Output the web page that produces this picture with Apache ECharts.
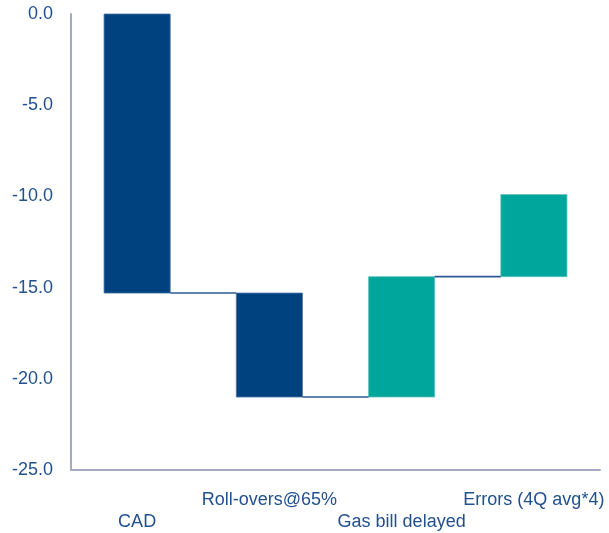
<!DOCTYPE html>
<html>
<head>
<meta charset="utf-8">
<style>
  html, body { margin: 0; padding: 0; background: #ffffff; }
  #chart { width: 609px; height: 533px; }
</style>
<script src="https://cdn.jsdelivr.net/npm/echarts@6/dist/echarts.min.js"></script>
</head>
<body>
<div id="chart"></div>
<script>
// Waterfall components (percentage points)
const categories = ['CAD', 'Roll-overs@65%', 'Gas bill delayed', 'Errors (4Q avg*4)'];
const changes = [-15.3, -5.7, 6.6, 4.5];
const yTicks = [0, -5, -10, -15, -20, -25];

const NAVY = '#00427f';
const TEAL = '#00a59b';
const TEXT = '#23508f';
const AXIS = '#a4abc1';

// Running totals: each bar spans from the previous level to the new one
const bars = [];
const levels = [];
let level = 0;
changes.forEach((c, i) => {
  const start = level;
  level = +(level + c).toFixed(2);
  bars.push([i, start, level]);
  levels.push(level);
});
// Connectors join the end of one bar to the start of the next
const connectors = levels.slice(0, -1).map((v, i) => [i, v]);

const chart = echarts.init(document.getElementById('chart'), null, { renderer: 'canvas' });

chart.setOption({
  animation: false,
  backgroundColor: '#ffffff',
  grid: { left: 71, right: 9, top: 14, bottom: 63, containLabel: false },
  xAxis: {
    type: 'category',
    data: categories,
    axisLine: { onZero: false, lineStyle: { color: AXIS, width: 2 } },
    axisTick: { show: false },
    axisLabel: {
      interval: 0,
      margin: 19,
      color: TEXT,
      fontFamily: 'Liberation Sans, Arial, sans-serif',
      fontSize: 18,
      lineHeight: 22,
      formatter: (val, idx) => (idx % 2 === 0 ? '\n' + val : val)
    }
  },
  yAxis: {
    type: 'value',
    min: yTicks[yTicks.length - 1],
    max: yTicks[0],
    interval: 5,
    axisLine: { show: true, lineStyle: { color: AXIS, width: 2 } },
    axisTick: { show: false },
    splitLine: { show: false },
    axisLabel: {
      margin: 18,
      color: TEXT,
      fontFamily: 'Liberation Sans, Arial, sans-serif',
      fontSize: 18,
      formatter: v => v.toFixed(1)
    }
  },
  series: [
    {
      type: 'custom',
      name: 'bars',
      data: bars,
      encode: { x: 0, y: [1, 2] },
      renderItem: (params, api) => {
        const i = api.value(0);
        const p1 = api.coord([i, api.value(1)]);
        const p2 = api.coord([i, api.value(2)]);
        const w = api.size([1, 0])[0] * 0.5;
        const up = api.value(2) > api.value(1);
        return {
          type: 'rect',
          shape: {
            x: p1[0] - w / 2,
            y: Math.min(p1[1], p2[1]),
            width: w,
            height: Math.abs(p2[1] - p1[1])
          },
          style: {
            fill: up ? TEAL : NAVY,
            stroke: up ? '#5cc4bd' : '#4a74a6',
            lineWidth: 0.8
          }
        };
      }
    },
    {
      type: 'custom',
      name: 'connectors',
      data: connectors,
      encode: { x: 0, y: 1 },
      renderItem: (params, api) => {
        const i = api.value(0);
        const v = api.value(1);
        const w = api.size([1, 0])[0] * 0.5;
        const a = api.coord([i, v]);
        const b = api.coord([i + 1, v]);
        return {
          type: 'line',
          shape: { x1: a[0] + w / 2, y1: a[1], x2: b[0] - w / 2, y2: b[1] },
          style: { stroke: '#2b5894', lineWidth: 1.6 }
        };
      }
    }
  ]
});
</script>
</body>
</html>
